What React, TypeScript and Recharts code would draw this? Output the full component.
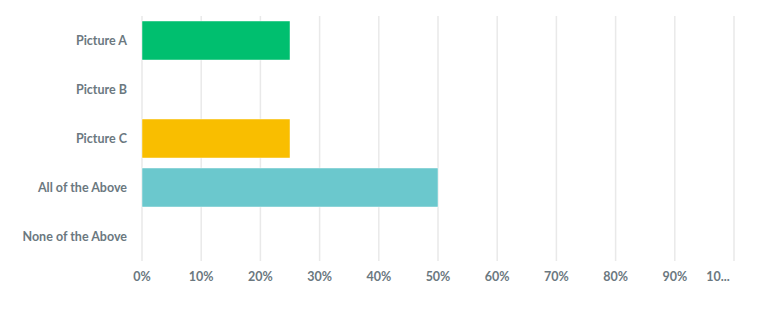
import { BarChart, Bar, XAxis, YAxis, CartesianGrid, Cell } from "recharts"

const categories = ["Picture A", "Picture B", "Picture C", "All of the Above", "None of the Above"]
const percents = [25, 0, 25, 50, 0]
const barColors = ["#00bf6f", "#507cb6", "#f9be00", "#6bc8cd", "#ff8b4f"]
const xTicks = [0, 10, 20, 30, 40, 50, 60, 70, 80, 90, 100]

const LABEL_COLOR = "#6b787f"
const FONT = "Lato, 'Open Sans', sans-serif"

const rows = categories.map((name, i) => ({ name, value: percents[i] }))

// the last tick is cut short in the original, so it is drawn by hand
const XTick = ({ x, y, payload }: { x: number; y: number; payload: { value: number } }) => {
  const full = payload.value === 100
  return (
    <text
      x={full ? x - 16 : x}
      y={y}
      dy="0.71em"
      textAnchor="middle"
      fill={LABEL_COLOR}
      fontSize={12.5}
      fontWeight={700}
      fontFamily={FONT}
    >
      {full ? "10..." : `${payload.value}%`}
    </text>
  )
}

export default function App() {
  return (
    <div style={{ position: "absolute", left: 0, top: 0, background: "#fff" }}>
      <BarChart
        width={768}
        height={312}
        data={rows}
        layout="vertical"
        margin={{ top: 16, right: 34, left: 0, bottom: 0 }}
        barCategoryGap={5}
      >
        <CartesianGrid horizontal={false} stroke="#e9e9e9" strokeWidth={1.5} />
        <XAxis
          type="number"
          domain={[0, 100]}
          ticks={xTicks}
          axisLine={false}
          tickLine={false}
          tickSize={0}
          tickMargin={11}
          height={51}
          interval={0}
          tick={XTick}
        />
        <YAxis
          type="category"
          dataKey="name"
          width={142}
          axisLine={false}
          tickLine={false}
          tickSize={0}
          tickMargin={15}
          tick={{ fill: LABEL_COLOR, fontSize: 12.5, fontWeight: 700, fontFamily: FONT }}
        />
        <Bar dataKey="value" isAnimationActive={false} stroke="#ffffff" strokeOpacity={0.45} strokeWidth={1}>
          {rows.map((_, i) => (
            <Cell key={`cell-${i}`} fill={barColors[i]} />
          ))}
        </Bar>
      </BarChart>
    </div>
  )
}
